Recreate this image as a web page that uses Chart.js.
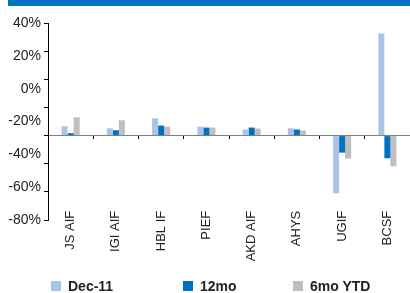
<!DOCTYPE html>
<html>
<head>
<meta charset="utf-8">
<script src="https://cdn.jsdelivr.net/npm/chart.js@4/dist/chart.umd.min.js"></script>
<style>
  html, body { margin: 0; padding: 0; background: #fff; }
  #wrap { position: relative; width: 410px; height: 293px; overflow: hidden; }
  #band { position: absolute; left: 8px; top: 0; width: 402px; height: 6px; background: #0070c0; }
  #legend { position: absolute; left: 0; top: 0; width: 410px; height: 293px; pointer-events: none; }
  .li { position: absolute; top: 277px; height: 18px; font: bold 14px "Liberation Sans", Arial, sans-serif; color: #222; line-height: 18px; white-space: nowrap; }
  .li i { position: absolute; left: 0; top: 4px; width: 10px; height: 10px; }
  .li span { position: absolute; left: 17px; top: 0; }
</style>
</head>
<body>
<div id="wrap">
  <canvas id="c" width="410" height="293"></canvas>
  <div id="band"></div>
  <div id="legend"></div>
</div>
<script>
// ---- data ----
const categories = ["JS AIF", "IGI AIF", "HBL IF", "PIEF", "AKD AIF", "AHYS", "UGIF", "BCSF"];
const seriesNames = ["Dec-11", "12mo", "6mo YTD"];
const dec11 = [6.6, 5.2, 12.3, 6.4, 4.3, 5.2, -41.0, 72.5];
const mo12 = [1.7, 3.8, 7.1, 5.7, 5.7, 4.3, -12.1, -16.1];
const ytd6 = [13.0, 10.9, 6.4, 5.7, 5.0, 3.6, -16.3, -21.8];
const tickLabelValues = [40, 20, 0, -20, -40, -60, -80];

const colors = ["#a9c4e8", "#0070c0", "#bfbfc3"];
const seriesValues = [dec11, mo12, ytd6];

const font13 = { family: "'Liberation Sans', Arial, sans-serif", size: 13 };
const font14 = { family: "'Liberation Sans', Arial, sans-serif", size: 14 };

const chart = new Chart(document.getElementById('c'), {
  type: 'bar',
  data: {
    labels: categories,
    datasets: seriesNames.map((name, i) => ({
      label: name,
      data: seriesValues[i],
      backgroundColor: colors[i],
      borderWidth: 0,
      xAxisID: 'x',
      yAxisID: 'y',
      categoryPercentage: 0.4,
      barPercentage: 1.0
    }))
  },
  options: {
    responsive: false,
    animation: false,
    events: [],
    layout: { padding: { top: 23, bottom: 73, left: 0, right: -3 } },
    plugins: { legend: { display: false }, tooltip: { enabled: false } },
    scales: {
      x: {
        axis: 'x',
        type: 'category',
        position: { y: 0 },
        grid: { drawOnChartArea: false, drawTicks: true, tickLength: 3, color: '#000', offset: true },
        border: { display: true, color: '#7f7f7f', width: 1 },
        ticks: { display: false }
      },
      y: {
        axis: 'y',
        type: 'linear',
        position: 'left',
        min: -60, max: 80,
        ticks: { display: false, stepSize: 20 },
        grid: { drawOnChartArea: false, drawTicks: true, tickLength: 4, color: '#000' },
        border: { display: true, color: '#000', width: 1 },
        afterFit: s => { s.width = 4; }
      },
      xl: {
        axis: 'x',
        type: 'category',
        position: { y: -52 },
        grid: { display: false, drawTicks: false },
        border: { display: false },
        ticks: { font: font13, color: '#222', minRotation: 90, maxRotation: 90, padding: 2, autoSkip: false }
      },
      yl: {
        axis: 'y',
        type: 'linear',
        position: 'left',
        min: -80, max: 40,
        grid: { display: false, drawTicks: false },
        border: { display: false },
        ticks: {
          font: font14, color: '#222', padding: 3, stepSize: 20,
          callback: v => tickLabelValues.includes(v) ? v + '%' : ''
        },
        afterFit: s => { s.width = 44; }
      }
    }
  }
});

// HTML legend built from the chart's datasets
const legendLefts = [51, 183, 293];
const leg = document.getElementById('legend');
chart.data.datasets.forEach((ds, i) => {
  const d = document.createElement('div');
  d.className = 'li';
  d.style.left = legendLefts[i] + 'px';
  const b = document.createElement('i');
  b.style.background = ds.backgroundColor;
  const t = document.createElement('span');
  t.textContent = ds.label;
  d.appendChild(b); d.appendChild(t);
  leg.appendChild(d);
});
</script>
</body>
</html>
